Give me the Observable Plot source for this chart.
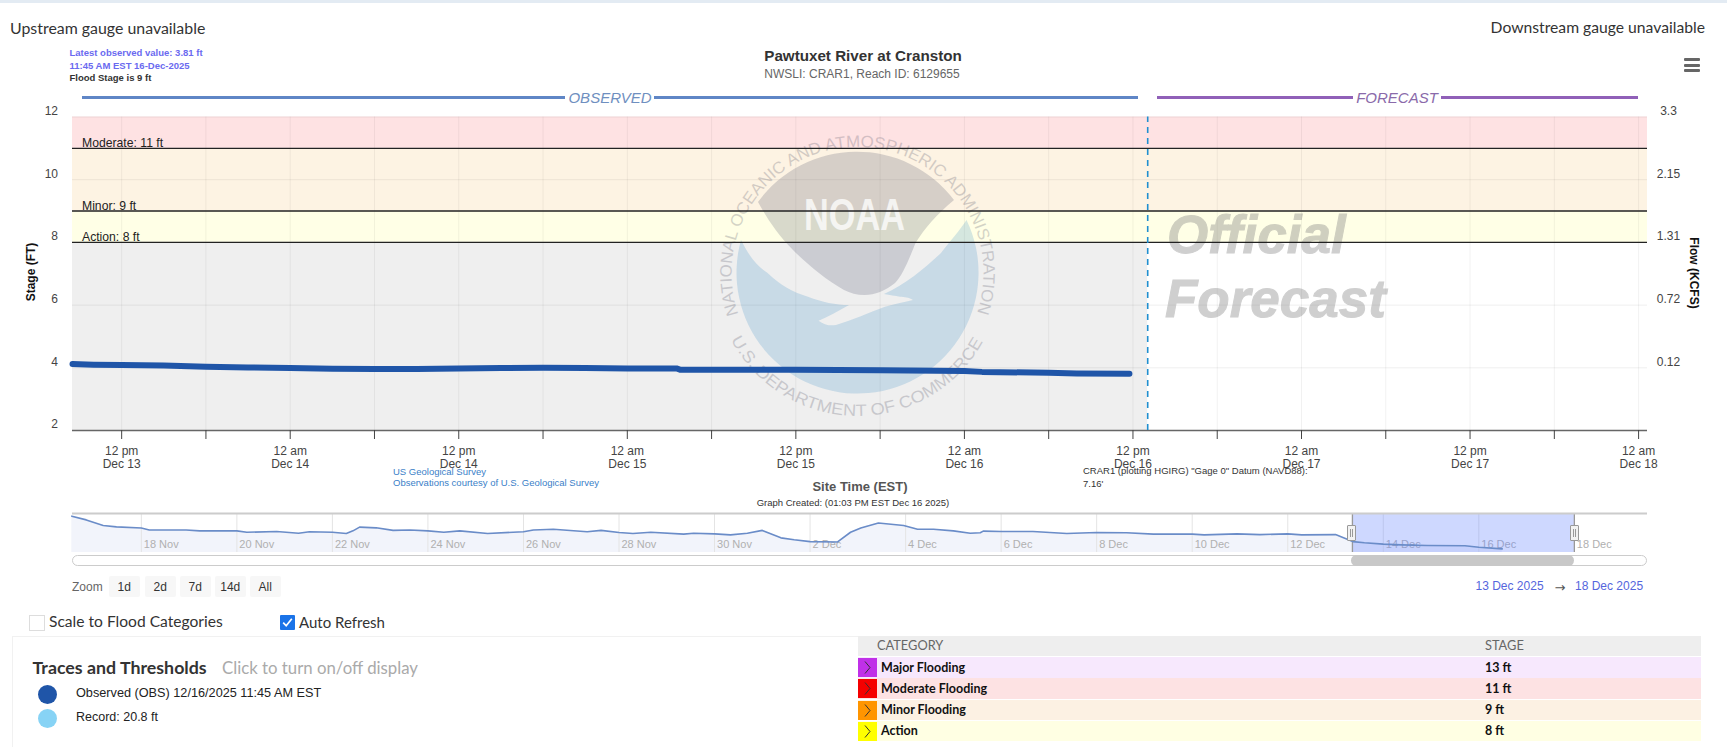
<!DOCTYPE html>
<html><head><meta charset="utf-8">
<script src="https://cdn.jsdelivr.net/npm/d3@7"></script>
<script src="https://cdn.jsdelivr.net/npm/@observablehq/plot@0.6"></script>
<style>
html,body{margin:0;padding:0;background:#fff;width:1727px;height:747px;overflow:hidden;font-family:"Liberation Sans",Arial,sans-serif}
#page{position:relative;width:1727px;height:747px;overflow:hidden}
.t{position:absolute;white-space:nowrap;line-height:1}
.b{position:absolute}
svg{position:absolute;left:0}
</style></head><body><div id="page"></div>
<script>
// ---------- data ----------
const obsTimes = ["2025-12-13T08:30","2025-12-13T10:00","2025-12-13T12:00","2025-12-13T15:00","2025-12-13T18:00","2025-12-13T21:00","2025-12-14T00:00","2025-12-14T03:00","2025-12-14T06:00","2025-12-14T09:00","2025-12-14T12:00","2025-12-14T15:00","2025-12-14T18:00","2025-12-14T21:00","2025-12-15T00:00","2025-12-15T03:30","2025-12-15T03:45","2025-12-15T08:00","2025-12-15T12:00","2025-12-15T18:00","2025-12-16T00:00","2025-12-16T01:15","2025-12-16T06:00","2025-12-16T08:00","2025-12-16T11:45"];
const obsStage = [4.12,4.10,4.09,4.07,4.03,4.01,3.99,3.97,3.96,3.96,3.98,3.99,4.00,3.99,3.98,3.98,3.94,3.94,3.94,3.92,3.90,3.87,3.84,3.82,3.81];
const navTimes = ["2025-11-16T13:05","2025-11-16T20:20","2025-11-17T04:50","2025-11-17T11:30","2025-11-18T00:00","2025-11-18T04:00","2025-11-18T22:30","2025-11-19T05:20","2025-11-20T00:00","2025-11-20T05:00","2025-11-20T20:00","2025-11-21T07:00","2025-11-21T12:30","2025-11-22T00:00","2025-11-22T07:00","2025-11-22T10:20","2025-11-22T13:40","2025-11-22T22:00","2025-11-23T06:30","2025-11-23T15:00","2025-11-24T00:00","2025-11-24T08:00","2025-11-24T16:00","2025-11-25T06:00","2025-11-26T00:00","2025-11-26T05:00","2025-11-26T15:00","2025-11-27T08:00","2025-11-27T15:00","2025-11-28T00:00","2025-11-28T07:00","2025-11-28T16:00","2025-11-29T08:30","2025-11-29T13:30","2025-11-30T00:00","2025-11-30T08:00","2025-11-30T16:30","2025-12-01T00:00","2025-12-01T09:20","2025-12-01T16:00","2025-12-02T00:00","2025-12-02T13:40","2025-12-02T20:20","2025-12-03T01:30","2025-12-03T10:20","2025-12-03T23:00","2025-12-04T06:00","2025-12-04T14:00","2025-12-05T00:00","2025-12-05T08:30","2025-12-05T13:30","2025-12-05T15:00","2025-12-06T00:00","2025-12-06T16:00","2025-12-07T09:00","2025-12-08T00:00","2025-12-08T15:00","2025-12-09T04:30","2025-12-10T00:00","2025-12-10T06:00","2025-12-10T22:30","2025-12-11T10:00","2025-12-12T00:00","2025-12-12T07:00","2025-12-13T00:00","2025-12-13T08:40","2025-12-13T14:30","2025-12-14T00:00","2025-12-14T09:00","2025-12-14T22:00","2025-12-15T17:00","2025-12-16T00:00","2025-12-16T11:45"];
const navStage = [5.21,5.05,4.81,4.75,4.70,4.62,4.62,4.58,4.58,4.52,4.55,4.48,4.54,4.52,4.47,4.58,4.74,4.71,4.60,4.62,4.58,4.52,4.58,4.47,4.54,4.62,4.65,4.54,4.60,4.51,4.47,4.52,4.44,4.48,4.45,4.41,4.48,4.60,4.28,4.20,4.12,4.10,4.52,4.70,4.92,4.81,4.65,4.65,4.58,4.48,4.50,4.57,4.55,4.55,4.47,4.51,4.50,4.44,4.44,4.41,4.45,4.42,4.45,4.41,4.42,4.12,4.07,4.01,3.98,3.95,3.94,3.88,3.81];
const stageTicks = [2,4,6,8,10,12];
const flowTickStages = [12,10,8,6,4];
const flowTickLabels = ["3.3","2.15","1.31","0.72","0.12"];
const bandLow = [8,9,11];
const bandHigh = [9,11,12];
const bandFill = ["#ffffe6","#fdf3e3","#fee2e3"];
const thresholdStage = [8,9,11];
const thresholdLabel = ["Action: 8 ft","Minor: 9 ft","Moderate: 11 ft"];
const timeTicks = ["2025-12-13T12:00","2025-12-13T18:00","2025-12-14T00:00","2025-12-14T06:00","2025-12-14T12:00","2025-12-14T18:00","2025-12-15T00:00","2025-12-15T06:00","2025-12-15T12:00","2025-12-15T18:00","2025-12-16T00:00","2025-12-16T06:00","2025-12-16T12:00","2025-12-16T18:00","2025-12-17T00:00","2025-12-17T06:00","2025-12-17T12:00","2025-12-17T18:00","2025-12-18T00:00"];
const timeLabels = ["12 pm\nDec 13","","12 am\nDec 14","","12 pm\nDec 14","","12 am\nDec 15","","12 pm\nDec 15","","12 am\nDec 16","","12 pm\nDec 16","","12 am\nDec 17","","12 pm\nDec 17","","12 am\nDec 18"];
const navTicks = ["2025-11-18","2025-11-20","2025-11-22","2025-11-24","2025-11-26","2025-11-28","2025-11-30","2025-12-02","2025-12-04","2025-12-06","2025-12-08","2025-12-10","2025-12-12","2025-12-14","2025-12-16","2025-12-18"];
const navLabels = ["18 Nov","20 Nov","22 Nov","24 Nov","26 Nov","28 Nov","30 Nov","2 Dec","4 Dec","6 Dec","8 Dec","10 Dec","12 Dec","14 Dec","16 Dec","18 Dec"];
const categories = ["Major Flooding","Moderate Flooding","Minor Flooding","Action"];
const categoryStage = ["13 ft","11 ft","9 ft","8 ft"];
const categoryColor = ["#c030e8","#f50000","#ff9500","#ffff00"];
const categoryRow = ["#f7e8fd","#fde2e3","#fcf1e3","#ffffe3"];
const rangeButtons = ["1d","2d","7d","14d","All"];
const nowTime = "2025-12-16T13:03";
const viewStart = "2025-12-13T08:30", viewEnd = "2025-12-18T00:38";
const navStart = "2025-11-16T13:25", navEnd = "2025-12-19T12:45";

// ---------- helpers ----------
const D = s => new Date(s + (s.length > 10 ? ":00Z" : "T00:00:00Z"));
const page = document.getElementById("page");
function txt(s, left, cy, size, color, extra = {}) {
  const e = document.createElement("div"); e.className = "t"; e.textContent = s;
  Object.assign(e.style, {left: left + "px", top: cy + "px", fontSize: size + "px", color, transform: "translateY(-50%)"}, extra);
  page.appendChild(e); return e;
}
function box(left, top, w, h, bg, extra = {}) {
  const e = document.createElement("div"); e.className = "b";
  Object.assign(e.style, {left: left + "px", top: top + "px", width: w + "px", height: h + "px", background: bg}, extra);
  page.appendChild(e); return e;
}
const UI = '"Lato","Liberation Sans",sans-serif';

// ---------- watermark (drawn inside the plot, under the lines) ----------
function watermark() {
  const g = d3.create("svg:g").attr("text-anchor", "start");
  const cx = 857.5, cy = 273;
  g.append("path").attr("fill", "#2d86c4").attr("opacity", .2)
    .attr("d", "M741 240 C750 258 758 267 767.6 273 C780 285 792 292 808 296.7 C822 302 836 305 849 305 C838 311 828 317 818.6 320.7 C824 325 830 326 836 325 C852 320 868 313 885 306.7 C895 304 905 302 913 300 C908 297 905 297 900 296.7 C895 296 890 295 884 294 C905 285 925 268 941 253 C951 240 960 230 966.5 220 A121 121 0 1 1 741 240Z");
  g.append("path").attr("fill", "#3a4060").attr("opacity", .2)
    .attr("d", "M758 202 A122 122 0 0 1 954 200 C936 215 925 228 915.5 243 C908 262 902 276 895 283 C885 291 875 295 864.5 295 C857 295 850 293 844 290 C826 280 806 263 793 250 C778 235 768 220 758 202Z");
  g.append("text").text("NOAA").attr("x", 804).attr("y", 230).attr("textLength", 101).attr("lengthAdjust", "spacingAndGlyphs")
    .attr("font-size", 45).attr("font-weight", 700).attr("fill", "#fff").attr("opacity", .75);
  const defs = g.append("defs");
  const a = 19 * Math.PI / 180, r1 = 126;
  defs.append("path").attr("id", "arcTop").attr("d", `M${cx - r1 * Math.cos(a)} ${cy + r1 * Math.sin(a)} A${r1} ${r1} 0 1 1 ${cx + r1 * Math.cos(a)} ${cy + r1 * Math.sin(a)}`);
  const b = 27.8 * Math.PI / 180, r2 = 143;
  defs.append("path").attr("id", "arcBot").attr("d", `M${cx - r2 * Math.cos(b)} ${cy + r2 * Math.sin(b)} A${r2} ${r2} 0 0 0 ${cx + r2 * Math.cos(b)} ${cy + r2 * Math.sin(b)}`);
  const ring = (id, s, len) => g.append("text").attr("font-size", 16.5).attr("fill", "#556").attr("opacity", .25)
    .append("textPath").attr("href", "#" + id).attr("textLength", len).attr("lengthAdjust", "spacingAndGlyphs").text(s);
  ring("arcTop", "NATIONAL OCEANIC AND ATMOSPHERIC ADMINISTRATION", 478);
  ring("arcBot", "U.S. DEPARTMENT OF COMMERCE", 308);
  const off = (s, x, y) => g.append("text").text(s).attr("x", x).attr("y", y).attr("font-size", 53).attr("font-weight", 700).attr("font-style", "italic").attr("fill", "#7c7c7c").attr("stroke", "#7c7c7c").attr("stroke-width", 1).attr("opacity", .36);
  off("Official", 1167, 253); off("Forecast", 1165, 317);
  return g.node();
}

// ---------- main chart ----------
const obs = obsTimes.map((t, i) => ({t: D(t), v: obsStage[i]}));
const labelByTime = new Map(timeTicks.map((t, i) => [+D(t), timeLabels[i]]));
const main = Plot.plot({
  width: 1727, height: 520, marginLeft: 72, marginRight: 80, marginTop: 116.5, marginBottom: 90,
  style: {fontFamily: '"Liberation Sans",Arial,sans-serif', fontSize: "12px", color: "#444", background: "transparent"},
  x: {type: "utc", domain: [D(viewStart), D(viewEnd)]},
  y: {domain: [2, 12]},
  marks: [
    Plot.rect(bandLow, {x1: D(viewStart), x2: D(viewEnd), y1: d => d, y2: (d, i) => bandHigh[i], fill: (d, i) => bandFill[i]}),
    Plot.rect([8], {x1: D(viewStart), x2: D(nowTime), y1: 2, y2: d => d, fill: "#efefef"}),
    Plot.ruleX(timeTicks.map(D), {stroke: "#000", strokeOpacity: .055}),
    Plot.ruleY(stageTicks, {stroke: "#000", strokeOpacity: .065}),
    watermark,
    Plot.ruleY(thresholdStage, {stroke: "#222", strokeWidth: 1.4}),
    Plot.text(thresholdStage, {x: D(viewStart), y: d => d, dx: 9.5, dy: -1, text: (d, i) => thresholdLabel[i], textAnchor: "start", lineAnchor: "bottom", fontSize: 12.2, fill: "#222"}),
    Plot.ruleY([2], {stroke: "#666", strokeWidth: 1.5}),
    Plot.ruleX([D(nowTime)], {y1: 2, y2: 12, stroke: "#1f8fd0", strokeWidth: 1.6, strokeDasharray: "6 5"}),
    Plot.line(obs, {x: "t", y: "v", stroke: "#1f55a8", strokeWidth: 6, strokeLinecap: "round", strokeLinejoin: "round"}),
    Plot.axisY(stageTicks, {anchor: "left", tickSize: 0, tickPadding: 14.5, dy: -6, label: null, fontSize: 12, fill: "#444"}),
    Plot.text(flowTickStages, {y: d => d, frameAnchor: "right", dx: 21, dy: -6, text: (d, i) => flowTickLabels[i], textAnchor: "middle", fontSize: 12, fill: "#444"}),
    Plot.axisX(timeTicks.map(D), {anchor: "bottom", tickSize: 9, tickPadding: 6, label: null, tickFormat: d => labelByTime.get(+d), lineHeight: 1.09, fontSize: 12, stroke: "#444", fill: "#444"})
  ]
});
main.style.top = "0";
page.appendChild(main);

// ---------- navigator ----------
const nav = navTimes.map((t, i) => ({t: D(t), v: navStage[i]}));
const navPlot = Plot.plot({
  width: 1727, height: 60, marginLeft: 72, marginRight: 80, marginTop: 8, marginBottom: 13,
  style: {fontFamily: '"Liberation Sans",Arial,sans-serif', background: "transparent"},
  x: {type: "utc", domain: [D(navStart), D(navEnd)], axis: null},
  y: {domain: [3.653, 5.324], axis: null},
  marks: [
    Plot.areaY(nav, {x: "t", y1: 3.653, y2: "v", fill: "#f2f4fb"}),
    Plot.ruleX(navTicks.map(D), {stroke: "#e4e4e4"}),
    Plot.text(navTicks.map(D), {x: d => d, frameAnchor: "bottom", dx: 2.5, dy: -5, text: (d, i) => navLabels[i], textAnchor: "start", fontSize: 11, fill: "#b0b0b0"}),
    Plot.rect([0], {x1: D(viewStart), x2: D("2025-12-18T00:00"), y1: 3.653, y2: 5.324, fill: "#6685ff", fillOpacity: .32}),
    Plot.ruleX([D(viewStart), D("2025-12-18T00:00")], {stroke: "#999", strokeWidth: 1.3}),
    Plot.line(nav, {x: "t", y: "v", stroke: "#6a8cc8", strokeWidth: 1.6}),
    Plot.ruleY([5.324], {stroke: "#ccc", strokeWidth: 2})
  ]
});
navPlot.style.top = "505px";
page.appendChild(navPlot);

// navigator handles and scrollbar
[1350.5, 1574].forEach(x => {
  const h = box(x - 4, 525, 7, 14, "#f2f2f2", {border: "1px solid #999", borderRadius: "1px"});
  h.innerHTML = '<div style="position:absolute;left:2px;top:3px;width:1px;height:8px;background:#999"></div><div style="position:absolute;left:4px;top:3px;width:1px;height:8px;background:#999"></div>';
});
box(72, 555, 1573, 9, "#fff", {border: "1px solid #ccc", borderRadius: "6px"});
box(1351, 555, 223, 11, "#c8c8c8", {borderRadius: "6px"});

// ---------- texts around the chart ----------
box(0, 0, 1727, 3, "#e3ebf3");
txt("Upstream gauge unavailable", 10, 28, 15.9, "#333", {fontFamily: UI});
txt("Downstream gauge unavailable", 0, 28, 15.7, "#333", {fontFamily: UI, left: "auto", right: "22px"});
txt("Latest observed value: 3.81 ft", 69.5, 53, 9.5, "#6a6af0", {fontWeight: 700});
txt("11:45 AM EST 16-Dec-2025", 69.5, 66, 9.5, "#6a6af0", {fontWeight: 700});
txt("Flood Stage is 9 ft", 69.5, 78, 9.5, "#333", {fontWeight: 700});
txt("Pawtuxet River at Cranston", 863, 56, 15.2, "#333", {fontWeight: 700, transform: "translate(-50%,-50%)"});
txt("NWSLI: CRAR1, Reach ID: 6129655", 862, 74, 12, "#666", {transform: "translate(-50%,-50%)"});
[57.5, 63.5, 69].forEach(y => box(1684, y, 16, 3, "#666", {borderRadius: "1px"}));

// observed / forecast header
box(82, 96, 483, 3, "#5f86c6"); box(654, 96, 484, 3, "#5f86c6");
txt("OBSERVED", 610, 97, 15, "#6f8fc0", {fontStyle: "italic", transform: "translate(-50%,-50%)"});
box(1157, 96, 196, 3, "#9060b8"); box(1441, 96, 197, 3, "#9060b8");
txt("FORECAST", 1397, 97, 15, "#8a6aaa", {fontStyle: "italic", transform: "translate(-50%,-50%)"});

// axis titles
txt("Stage (FT)", 31, 272, 12, "#111", {fontWeight: 700, transform: "translate(-50%,-50%) rotate(-90deg)"});
txt("Flow (KCFS)", 1694, 273, 12, "#111", {fontWeight: 700, transform: "translate(-50%,-50%) rotate(90deg)"});
txt("Site Time (EST)", 860, 486, 13, "#555", {fontWeight: 700, transform: "translate(-50%,-50%)"});
txt("Graph Created: (01:03 PM EST Dec 16 2025)", 853, 503, 9.5, "#333", {transform: "translate(-50%,-50%)"});
txt("US Geological Survey", 393, 472, 9.5, "#3a80c8");
txt("Observations courtesy of U.S. Geological Survey", 393, 483, 9.5, "#3a80c8");
txt("CRAR1 (plotting HGIRG) \"Gage 0\" Datum (NAVD88):", 1083, 471, 9.5, "#333");
txt("7.16'", 1083, 484, 9.5, "#333");

// range selector
txt("Zoom", 72, 587, 12, "#666");
const btnX = [109, 145, 180, 215, 250];
rangeButtons.forEach((s, i) => {
  box(btnX[i], 576, 30.5, 21, "#f7f7f7", {borderRadius: "2px"});
  txt(s, btnX[i] + 15.25, 587, 12, "#333", {transform: "translate(-50%,-50%)"});
});
txt("13 Dec 2025", 1475.5, 586, 12, "#5566dd");
txt("\u2192", 1560, 587, 13, "#555", {fontFamily: '"DejaVu Sans"', transform: "translate(-50%,-50%)"});
txt("18 Dec 2025", 1575, 586, 12, "#5566dd");

// checkboxes
box(29, 615, 14, 14, "#fff", {border: "1px solid #ddd"});
txt("Scale to Flood Categories", 49, 622, 15.6, "#333", {fontFamily: UI});
const cb = box(280, 615, 15, 15, "#1a73e8", {borderRadius: "1px"});
cb.innerHTML = '<svg width="15" height="15" style="position:absolute;left:0;top:0"><path d="M3.2 7.6 L6.2 10.8 L11.8 3.8" fill="none" stroke="#fff" stroke-width="1.7"/></svg>';
txt("Auto Refresh", 299, 622, 15, "#333", {fontFamily: UI});

// traces panel
box(12, 636, 846, 1, "#f1f1f1"); box(12, 636, 1, 111, "#f1f1f1");
txt("Traces and Thresholds", 32.5, 668, 17.8, "#333", {fontFamily: UI, fontWeight: 700});
txt("Click to turn on/off display", 222, 668, 16.8, "#aaa", {fontFamily: UI});
box(37.5, 685, 19, 19, "#1f55a8", {borderRadius: "50%"});
box(37.5, 709, 19, 19, "#87d3f5", {borderRadius: "50%"});
txt("Observed (OBS) 12/16/2025 11:45 AM EST", 76, 693, 12.7, "#222");
txt("Record: 20.8 ft", 76, 716.5, 12.5, "#222");

// category table
box(858, 636, 843, 20, "#eeeeee");
txt("CATEGORY", 877, 645, 12.8, "#666", {fontFamily: UI});
txt("STAGE", 1485, 645, 12.8, "#666", {fontFamily: UI});
categories.forEach((c, i) => {
  const top = 657 + i * 21.3;
  box(858, top, 843, 20.5, categoryRow[i]);
  const sw = box(858, top + 1, 19, 19, categoryColor[i]);
  sw.innerHTML = '<svg width="19" height="19" style="position:absolute;left:0;top:0"><path d="M7 3.5 L12 9.5 L7 15.5" fill="none" stroke="#333" stroke-width="1"/></svg>';
  txt(c, 881, top + 10.5, 12.5, "#111", {fontFamily: UI, fontWeight: 700});
  txt(categoryStage[i], 1485, top + 10.5, 12.5, "#111", {fontFamily: UI, fontWeight: 700});
});
</script></body></html>
